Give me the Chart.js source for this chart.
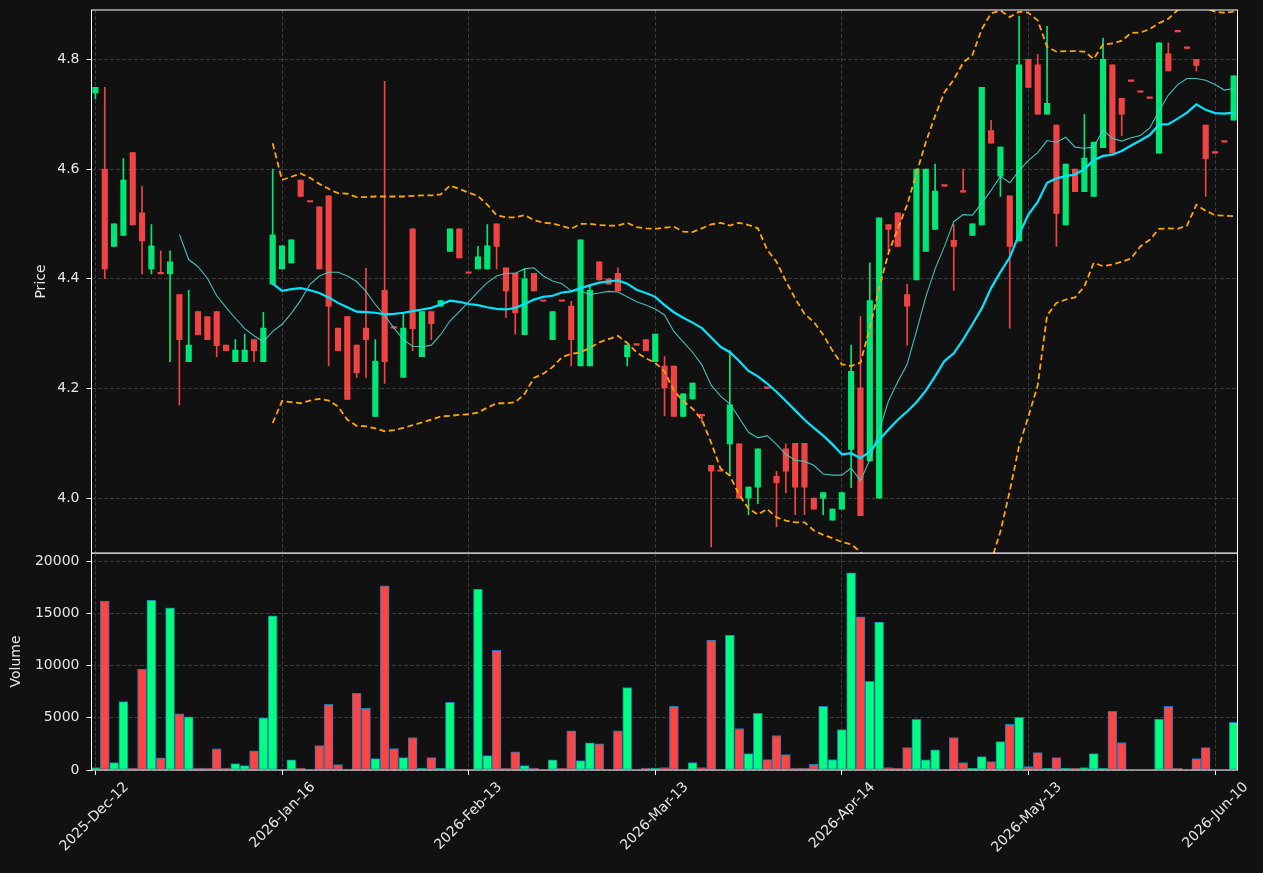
<!DOCTYPE html>
<html lang="en">
<head>
<meta charset="UTF-8">
<title>Price / Volume</title>
<script src="https://cdn.jsdelivr.net/npm/chart.js@4.4.1/dist/chart.umd.min.js"></script>
<style>
  html, body { margin: 0; padding: 0; background: #111111; }
  #wrap { position: relative; width: 1263px; height: 873px; }
  #priceBox { position: absolute; left: 0; top: 0; width: 1263px; height: 560px; }
  #volBox { position: absolute; left: 0; top: 553px; width: 1263px; height: 320px; }
</style>
</head>
<body>
<div id="wrap">
  <div id="priceBox"><canvas id="priceChart"></canvas></div>
  <div id="volBox"><canvas id="volChart"></canvas></div>
</div>
<script>
// x tick positions (bar index) and their date labels
const tickIdx = [0, 20, 40, 60, 80, 100, 120];
const tickLabels = ['2025-Dec-12', '2026-Jan-16', '2026-Feb-13', '2026-Mar-13', '2026-Apr-14', '2026-May-13', '2026-Jun-10'];
const priceTicks = [4.0, 4.2, 4.4, 4.6, 4.8];
const volTicks = [0, 5000, 10000, 15000, 20000];

// daily OHLC, one value per bar
const opens = [4.739,4.600,4.459,4.479,4.630,4.520,4.418,4.410,4.409,4.371,
  4.249,4.340,4.331,4.340,4.279,4.249,4.249,4.289,4.249,4.390,
  4.418,4.429,4.580,4.541,4.531,4.551,4.310,4.331,4.279,4.310,
  4.149,4.379,4.311,4.220,4.491,4.258,4.340,4.350,4.450,4.491,
  4.411,4.418,4.418,4.500,4.420,4.410,4.298,4.410,4.360,4.289,
  4.360,4.350,4.241,4.241,4.431,4.400,4.410,4.258,4.280,4.289,
  4.249,4.241,4.241,4.149,4.181,4.151,4.060,4.050,4.099,4.099,
  4.000,4.020,4.201,4.040,4.090,4.100,4.100,4.000,4.000,3.960,
  3.980,4.089,4.201,4.068,4.000,4.499,4.520,4.371,4.398,4.450,
  4.490,4.570,4.470,4.559,4.479,4.498,4.670,4.587,4.551,4.469,
  4.800,4.790,4.700,4.680,4.498,4.600,4.559,4.550,4.639,4.790,
  4.729,4.761,4.741,4.730,4.629,4.810,4.851,4.821,4.800,4.680,
  4.630,4.650,4.689];
const highs = [4.749,4.749,4.500,4.619,4.630,4.569,4.499,4.451,4.451,4.371,
  4.379,4.340,4.331,4.340,4.279,4.289,4.299,4.289,4.339,4.600,
  4.460,4.471,4.580,4.541,4.531,4.551,4.310,4.331,4.279,4.419,
  4.289,4.760,4.311,4.339,4.491,4.340,4.340,4.360,4.491,4.491,
  4.411,4.459,4.499,4.500,4.420,4.410,4.418,4.410,4.360,4.340,
  4.360,4.359,4.471,4.390,4.431,4.400,4.420,4.279,4.280,4.289,
  4.299,4.258,4.241,4.190,4.210,4.151,4.060,4.050,4.269,4.099,
  4.020,4.090,4.201,4.049,4.099,4.100,4.100,4.000,4.010,3.980,
  4.010,4.279,4.331,4.429,4.511,4.499,4.520,4.390,4.600,4.600,
  4.609,4.570,4.499,4.600,4.500,4.749,4.689,4.640,4.551,4.879,
  4.800,4.809,4.860,4.680,4.609,4.600,4.700,4.649,4.839,4.790,
  4.729,4.761,4.741,4.730,4.830,4.830,4.851,4.821,4.800,4.680,
  4.630,4.650,4.770];
const lows = [4.728,4.400,4.459,4.479,4.498,4.409,4.409,4.409,4.249,4.170,
  4.249,4.298,4.289,4.258,4.269,4.249,4.249,4.249,4.249,4.390,
  4.418,4.429,4.550,4.540,4.418,4.241,4.269,4.180,4.220,4.220,
  4.149,4.209,4.310,4.220,4.269,4.258,4.289,4.350,4.450,4.438,
  4.410,4.418,4.418,4.418,4.329,4.299,4.298,4.378,4.359,4.289,
  4.359,4.241,4.241,4.241,4.398,4.390,4.378,4.241,4.279,4.269,
  4.249,4.150,4.149,4.149,4.181,4.139,3.911,4.049,4.041,4.000,
  3.970,3.990,4.200,3.948,4.010,3.970,3.970,3.980,3.970,3.960,
  3.980,4.019,3.968,4.068,4.000,4.450,4.459,4.279,4.398,4.450,
  4.490,4.569,4.379,4.558,4.479,4.498,4.647,4.550,4.310,4.469,
  4.749,4.700,4.700,4.459,4.498,4.559,4.559,4.550,4.639,4.629,
  4.661,4.760,4.740,4.729,4.629,4.779,4.850,4.820,4.779,4.550,
  4.629,4.649,4.689];
const closes = [4.749,4.418,4.500,4.580,4.498,4.469,4.460,4.409,4.431,4.289,
  4.279,4.298,4.289,4.278,4.269,4.270,4.270,4.269,4.310,4.480,
  4.460,4.471,4.550,4.540,4.418,4.350,4.269,4.180,4.229,4.289,
  4.250,4.249,4.310,4.310,4.309,4.340,4.318,4.360,4.491,4.438,
  4.410,4.440,4.460,4.459,4.378,4.338,4.400,4.378,4.359,4.340,
  4.359,4.289,4.471,4.379,4.398,4.390,4.378,4.279,4.279,4.269,
  4.299,4.201,4.149,4.190,4.210,4.150,4.049,4.049,4.170,4.000,
  4.020,4.090,4.200,4.028,4.049,4.020,4.020,3.980,4.010,3.980,
  4.010,4.231,3.968,4.360,4.511,4.490,4.459,4.350,4.600,4.600,
  4.560,4.569,4.459,4.558,4.500,4.749,4.647,4.640,4.459,4.790,
  4.749,4.700,4.720,4.519,4.609,4.559,4.620,4.649,4.800,4.629,
  4.700,4.760,4.740,4.729,4.830,4.779,4.850,4.820,4.789,4.619,
  4.629,4.649,4.770];
const volumes = [225,16180,706,6549,193,9663,16276,1156,15538,5393,
  5104,30,30,2022,30,610,417,1830,5008,14767,
  0,963,30,0,2343,6292,514,0,7351,5907,
  1091,17657,2055,1188,3114,30,1188,30,6485,0,
  0,17335,1380,11461,30,1734,417,30,0,963,
  30,3756,899,2600,2504,0,3756,7897,0,30,
  30,225,6100,0,706,225,12456,0,12937,3981,
  1573,5425,995,3307,1477,128,128,546,6100,995,
  3884,18909,14671,8507,14190,225,30,2151,4848,963,
  1926,0,3114,706,96,1284,803,2729,4366,5040,
  321,1669,96,1188,96,30,225,1573,30,5618,
  2632,0,0,0,4880,6100,128,0,1091,2151,
  0,0,4559];

// 10-bar average, first value at bar 9
const ma10Start = 9;
const ma10 = [4.481,4.435,4.422,4.401,4.369,4.348,4.328,4.309,4.296,4.285,
  4.304,4.317,4.337,4.361,4.390,4.405,4.412,4.412,4.405,4.395,
  4.377,4.353,4.333,4.310,4.289,4.277,4.276,4.279,4.298,4.323,
  4.340,4.358,4.376,4.393,4.405,4.410,4.410,4.418,4.420,4.405,
  4.396,4.391,4.378,4.378,4.371,4.374,4.377,4.376,4.367,4.358,
  4.352,4.345,4.334,4.304,4.285,4.266,4.243,4.206,4.186,4.172,
  4.146,4.120,4.110,4.114,4.098,4.080,4.069,4.067,4.060,4.044,
  4.042,4.042,4.055,4.032,4.070,4.123,4.177,4.212,4.244,4.304,
  4.367,4.418,4.459,4.504,4.517,4.516,4.538,4.561,4.587,4.575,
  4.597,4.616,4.630,4.652,4.649,4.658,4.640,4.638,4.640,4.671,
  4.656,4.651,4.657,4.661,4.675,4.706,4.735,4.754,4.765,4.765,
  4.762,4.754,4.744,4.747];

// 20-bar average and bands, first value at bar 19
const bandStart = 19;
const ma20 = [4.391,4.378,4.381,4.383,4.379,4.374,4.366,4.356,4.348,4.340,
  4.339,4.338,4.335,4.336,4.338,4.341,4.344,4.347,4.353,4.360,
  4.358,4.354,4.352,4.348,4.345,4.344,4.347,4.354,4.362,4.367,
  4.369,4.375,4.377,4.383,4.388,4.393,4.395,4.397,4.391,4.380,
  4.374,4.367,4.352,4.339,4.329,4.320,4.310,4.293,4.276,4.266,
  4.250,4.232,4.222,4.209,4.194,4.177,4.160,4.143,4.128,4.114,
  4.098,4.080,4.082,4.073,4.085,4.106,4.125,4.143,4.158,4.175,
  4.196,4.222,4.250,4.264,4.289,4.317,4.346,4.383,4.412,4.439,
  4.481,4.517,4.540,4.575,4.583,4.587,4.590,4.600,4.616,4.624,
  4.626,4.633,4.643,4.652,4.662,4.681,4.682,4.692,4.703,4.718,
  4.708,4.702,4.701,4.703];
const bbUpper = [4.647,4.580,4.586,4.592,4.584,4.573,4.564,4.556,4.555,4.549,
  4.549,4.550,4.550,4.550,4.550,4.551,4.552,4.552,4.554,4.570,
  4.564,4.557,4.551,4.535,4.516,4.512,4.512,4.516,4.507,4.502,
  4.501,4.496,4.491,4.500,4.500,4.498,4.497,4.497,4.502,4.494,
  4.492,4.491,4.493,4.495,4.486,4.485,4.492,4.499,4.502,4.497,
  4.502,4.498,4.492,4.453,4.431,4.396,4.364,4.336,4.321,4.298,
  4.269,4.244,4.241,4.247,4.310,4.383,4.447,4.491,4.535,4.592,
  4.649,4.697,4.740,4.763,4.794,4.808,4.855,4.884,4.889,4.877,
  4.887,4.885,4.871,4.823,4.814,4.815,4.815,4.814,4.801,4.827,
  4.829,4.834,4.848,4.849,4.855,4.866,4.874,4.890,4.896,4.899,
  4.893,4.887,4.885,4.887];
const bbLower = [4.137,4.177,4.175,4.173,4.178,4.181,4.178,4.167,4.143,4.132,
  4.131,4.127,4.122,4.124,4.128,4.133,4.138,4.143,4.149,4.150,
  4.152,4.153,4.156,4.165,4.173,4.173,4.175,4.190,4.219,4.227,
  4.239,4.257,4.263,4.266,4.274,4.284,4.290,4.296,4.283,4.266,
  4.255,4.247,4.231,4.196,4.177,4.163,4.143,4.101,4.054,4.041,
  4.006,3.981,3.970,3.980,3.965,3.959,3.956,3.956,3.941,3.933,
  3.927,3.920,3.916,3.902,3.860,3.829,3.803,3.795,3.781,3.758,
  3.743,3.747,3.760,3.765,3.784,3.826,3.840,3.885,3.939,4.013,
  4.095,4.149,4.206,4.333,4.356,4.362,4.366,4.386,4.429,4.423,
  4.426,4.431,4.437,4.459,4.471,4.491,4.492,4.491,4.497,4.535,
  4.524,4.516,4.515,4.514];

const upCandle = '#00e676', downCandle = '#ef4444';
const upVol = '#00ff7f', downVol = '#ff4444';
const gridColor = '#3a3a3a';
const textColor = '#e6e6e6';
const font = { family: 'DejaVu Sans', size: 14 };

const isUp = closes.map((c, i) => c > opens[i]);

const frame = {
  id: 'frame',
  afterDraw(chart) {
    const { ctx, chartArea: a } = chart;
    ctx.save();
    ctx.strokeStyle = '#ffffff';
    ctx.lineWidth = 1;
    ctx.strokeRect(a.left, a.top, a.right - a.left, a.bottom - a.top);
    ctx.restore();
  }
};

const xMin = -0.42, xMax = 122.41;
const series = (arr, start) => arr.map((v, k) => ({ x: k + start, y: v }));

function xScale(showLabels) {
  return {
    type: 'linear', min: xMin, max: xMax, offset: false,
    afterBuildTicks: s => { s.ticks = tickIdx.map(v => ({ value: v })); },
    afterFit: s => { s.height = showLabels ? 103 : 0; s.paddingLeft = 0; s.paddingRight = 0; },
    grid: { color: gridColor, drawTicks: showLabels, tickLength: 5, tickColor: '#ffffff', tickBorderDash: [], offset: false },
    border: { display: false, dash: [4, 2] },
    ticks: {
      display: showLabels, autoSkip: false, minRotation: 45, maxRotation: 45,
      color: textColor, font: font, padding: 4, labelOffset: 31,
      callback: v => tickLabels[tickIdx.indexOf(v)]
    }
  };
}

function yScale(ticks, fmt, min, max, title, padLeft) {
  return {
    min: min, max: max,
    afterBuildTicks: s => { s.ticks = ticks.map(v => ({ value: v })); },
    afterFit: s => { s.width = 91.5 - padLeft; s.paddingTop = 0; s.paddingBottom = 0; },
    grid: { color: gridColor, tickLength: 5, tickColor: '#ffffff', tickBorderDash: [] },
    border: { display: false, dash: [4, 2] },
    ticks: { color: textColor, font: font, padding: 7, callback: fmt },
    title: { display: true, text: title, color: textColor, font: font, padding: { top: 0, bottom: 0 } }
  };
}

new Chart(document.getElementById('priceChart'), {
  type: 'bar',
  data: {
    datasets: [
      { type: 'line', data: series(ma20, bandStart), borderColor: '#00e5ff', borderWidth: 2.2, pointRadius: 0, tension: 0 },
      { type: 'line', data: series(ma10, ma10Start), borderColor: 'rgba(72,209,204,0.9)', borderWidth: 1.1, pointRadius: 0, tension: 0 },
      { type: 'line', data: series(bbUpper, bandStart), borderColor: '#ffa500', borderWidth: 1.8, borderDash: [6, 3.5], pointRadius: 0, tension: 0 },
      { type: 'line', data: series(bbLower, bandStart), borderColor: '#ffa500', borderWidth: 1.8, borderDash: [6, 3.5], pointRadius: 0, tension: 0 },
      {
        data: opens.map((o, i) => ({ x: i, y: [Math.min(o, closes[i]), Math.max(o, closes[i])] })),
        backgroundColor: isUp.map(u => u ? upCandle : downCandle),
        barThickness: 5.5, minBarLength: 1.5, grouped: false, borderWidth: 0
      },
      {
        data: lows.map((l, i) => ({ x: i, y: [l, highs[i]] })),
        backgroundColor: isUp.map(u => u ? upCandle : downCandle),
        barThickness: 1, grouped: false, borderWidth: 0
      }
    ]
  },
  options: {
    responsive: true, maintainAspectRatio: false, animation: false,
    layout: { padding: { left: 33, right: 25.5, top: 10, bottom: 7 } },
    plugins: { legend: { display: false }, tooltip: { enabled: false } },
    scales: {
      x: xScale(false),
      y: yScale(priceTicks, v => v.toFixed(1), 3.9, 4.89, 'Price', 33)
    }
  },
  plugins: [frame]
});

new Chart(document.getElementById('volChart'), {
  type: 'bar',
  data: {
    datasets: [{
      data: volumes.map((v, i) => ({ x: i, y: v > 0 ? v : null })),
      backgroundColor: isUp.map(u => u ? upVol : downVol),
      borderColor: '#1f77b4', borderWidth: 1, borderSkipped: false,
      barThickness: 9, minBarLength: 2, grouped: false
    }]
  },
  options: {
    responsive: true, maintainAspectRatio: false, animation: false,
    layout: { padding: { left: 8.3, right: 25.5, top: 0, bottom: 0 } },
    plugins: { legend: { display: false }, tooltip: { enabled: false } },
    scales: {
      x: xScale(true),
      y: yScale(volTicks, v => String(v), 0, 20800, 'Volume', 8.3)
    }
  },
  plugins: [frame]
});
</script>
</body>
</html>
